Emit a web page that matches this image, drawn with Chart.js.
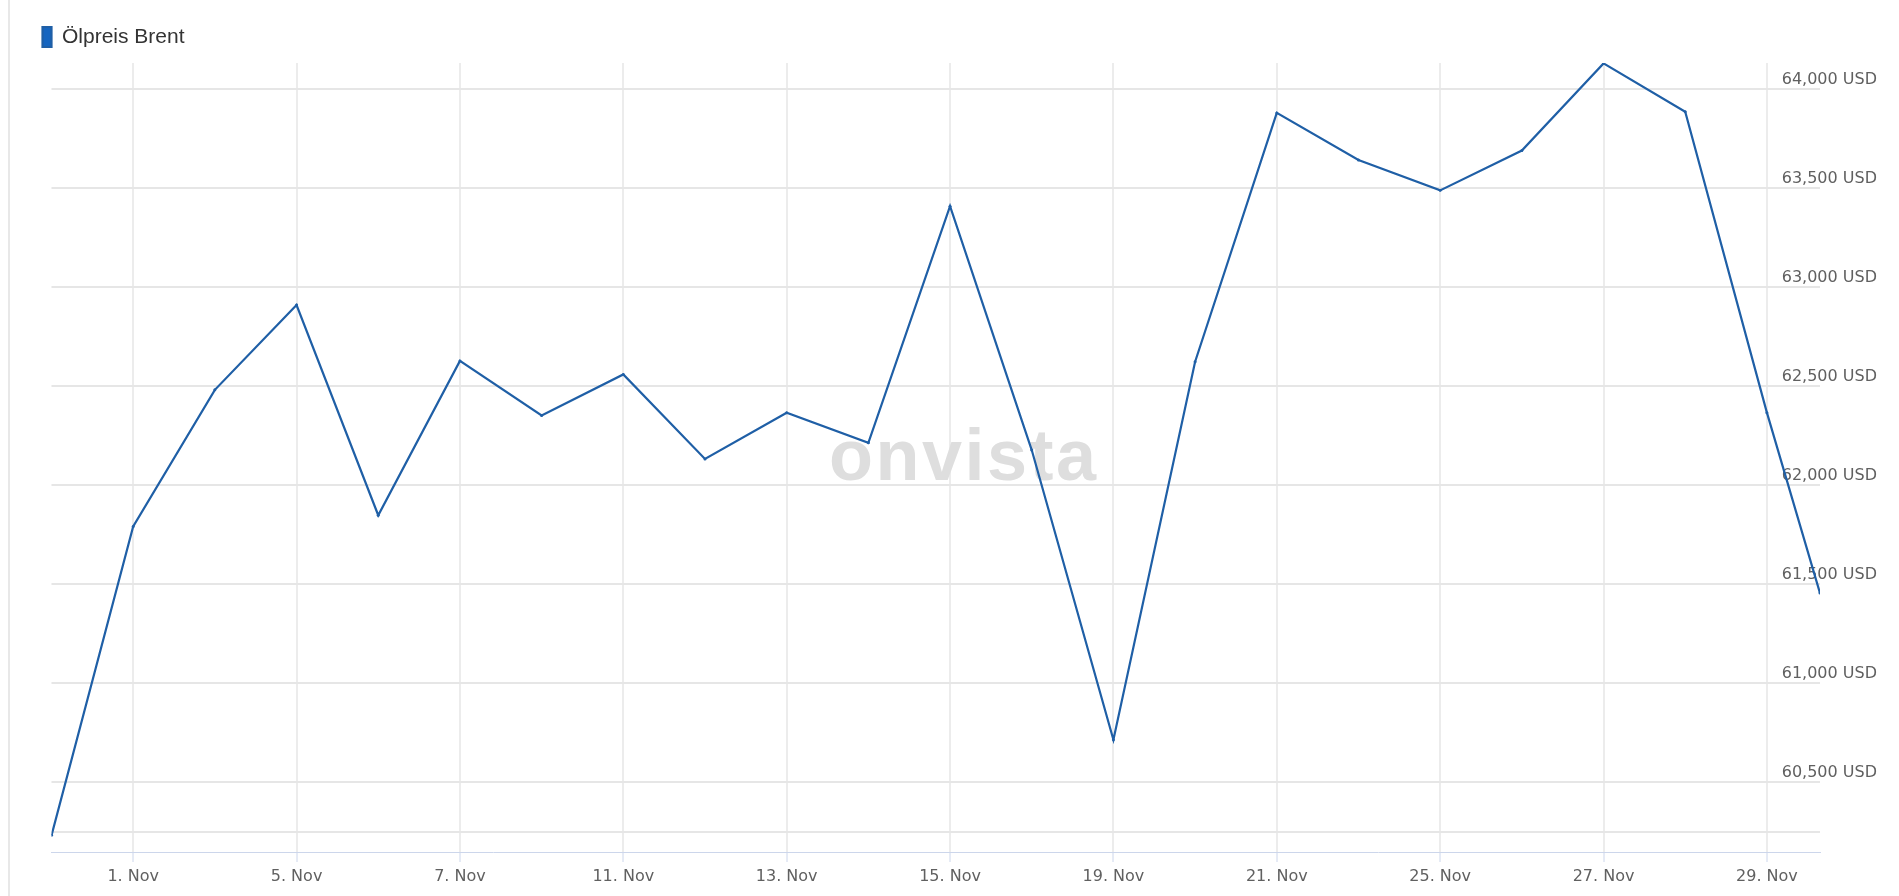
<!DOCTYPE html>
<html lang="de">
<head>
<meta charset="utf-8">
<title>Ölpreis Brent</title>
<script src="https://cdn.jsdelivr.net/npm/chart.js@4/dist/chart.umd.min.js"></script>
<style>
    html, body { margin: 0; padding: 0; background: #fff; overflow: hidden; }
    .frame { position: relative; width: 1899px; height: 896px; }
    .frame .edge { position: absolute; left: 8px; top: 0; width: 2px; height: 896px; background: #e8e8e8; }
    .frame canvas { position: absolute; left: 0; top: 0; }
</style>
</head>
<body>
<div class="frame">
    <div class="edge"></div>
    <canvas id="brentChart" width="1899" height="896"></canvas>
</div>
<script>
// trading days (x axis), every second one gets a label
const dates = ['31. Okt', '1. Nov', '4. Nov', '5. Nov', '6. Nov', '7. Nov', '8. Nov', '11. Nov',
    '12. Nov', '13. Nov', '14. Nov', '15. Nov', '18. Nov', '19. Nov', '20. Nov', '21. Nov',
    '22. Nov', '25. Nov', '26. Nov', '27. Nov', '28. Nov', '29. Nov'];
// closing prices in USD, last entry is the current quote
const prices = [60.231, 61.790, 62.480, 62.908, 61.847, 62.626, 62.351, 62.558,
    62.131, 62.364, 62.213, 63.407, 62.176, 60.714, 62.622, 63.878,
    63.640, 63.487, 63.688, 64.128, 63.884, 62.365, 61.454];
const lastQuoteX = 21.65;
const yTicks = [60.25, 60.5, 61.0, 61.5, 62.0, 62.5, 63.0, 63.5, 64.0];
const yMin = 60.147;
const yMax = 64.13;

const positions = dates.map((d, i) => i).concat([lastQuoteX]);
const xTicks = dates.map((d, i) => i).filter(i => i % 2 === 1);

Chart.defaults.font.family = "'DejaVu Sans', sans-serif";
Chart.defaults.color = '#606060';

// onvista watermark behind the line
const watermark = {
    id: 'watermark',
    beforeDatasetsDraw(chart) {
        const { ctx, chartArea } = chart;
        ctx.save();
        ctx.font = "bold 72px 'Liberation Sans', Arial, sans-serif";
        ctx.letterSpacing = '2.5px';
        ctx.fillStyle = '#dedede';
        ctx.textAlign = 'center';
        ctx.textBaseline = 'alphabetic';
        ctx.fillText('onvista', (chartArea.left + chartArea.right) / 2 + 28, 480);
        ctx.restore();
    }
};

// legend sits further left/up than the plot area
const legendShift = {
    id: 'legendShift',
    afterLayout(chart) {
        chart.legend.left -= 19;
        chart.legend.top -= 5.5;
    }
};

const ctx = document.getElementById('brentChart').getContext('2d');
new Chart(ctx, {
    type: 'line',
    data: {
        datasets: [{
            label: 'Ölpreis Brent',
            data: prices.map((p, i) => ({ x: positions[i], y: p })),
            borderColor: '#1f5fa6',
            backgroundColor: '#1565c0',
            borderWidth: 2.2,
            tension: 0,
            fill: false,
            pointRadius: 1.5,
            pointBorderWidth: 0,
            pointBackgroundColor: '#1f5fa6',
            pointHoverRadius: 3
        }]
    },
    options: {
        responsive: false,
        animation: false,
        layout: { padding: { top: 22, left: 51.5, right: 0, bottom: 0 } },
        plugins: {
            legend: {
                display: true,
                position: 'top',
                align: 'start',
                labels: {
                    boxWidth: 9,
                    boxHeight: 20,
                    padding: 10,
                    color: '#333',
                    font: { family: "'Liberation Sans', Arial, sans-serif", size: 21 }
                }
            },
            tooltip: { enabled: false }
        },
        scales: {
            x: {
                type: 'linear',
                min: 0,
                max: lastQuoteX,
                afterBuildTicks: scale => { scale.ticks = xTicks.map(v => ({ value: v })); },
                afterFit: scale => { scale.height = 44; },
                grid: {
                    color: '#ececec',
                    lineWidth: 2,
                    drawTicks: true,
                    tickLength: 10,
                    tickColor: '#ccd6eb',
                    tickWidth: 1
                },
                border: { display: true, color: '#ccd6eb', width: 1 },
                ticks: {
                    padding: 5,
                    maxRotation: 0,
                    autoSkip: false,
                    font: { size: 16 },
                    callback: value => dates[value] || ''
                }
            },
            y: {
                type: 'linear',
                position: 'right',
                min: yMin,
                max: yMax,
                afterBuildTicks: scale => { scale.ticks = yTicks.map(v => ({ value: v })); },
                afterFit: scale => {
                    scale.width = 79;
                    scale.paddingTop = 0;
                    scale.paddingBottom = 0;
                },
                grid: { color: '#e6e6e6', lineWidth: 2, drawTicks: false },
                border: { display: false },
                ticks: {
                    mirror: true,
                    padding: 57,
                    labelOffset: -9,
                    font: { size: 16 },
                    callback: value => value === yTicks[0] ? '' : value.toFixed(3).replace('.', ',') + ' USD'
                }
            }
        }
    },
    plugins: [watermark, legendShift]
});
</script>
</body>
</html>
